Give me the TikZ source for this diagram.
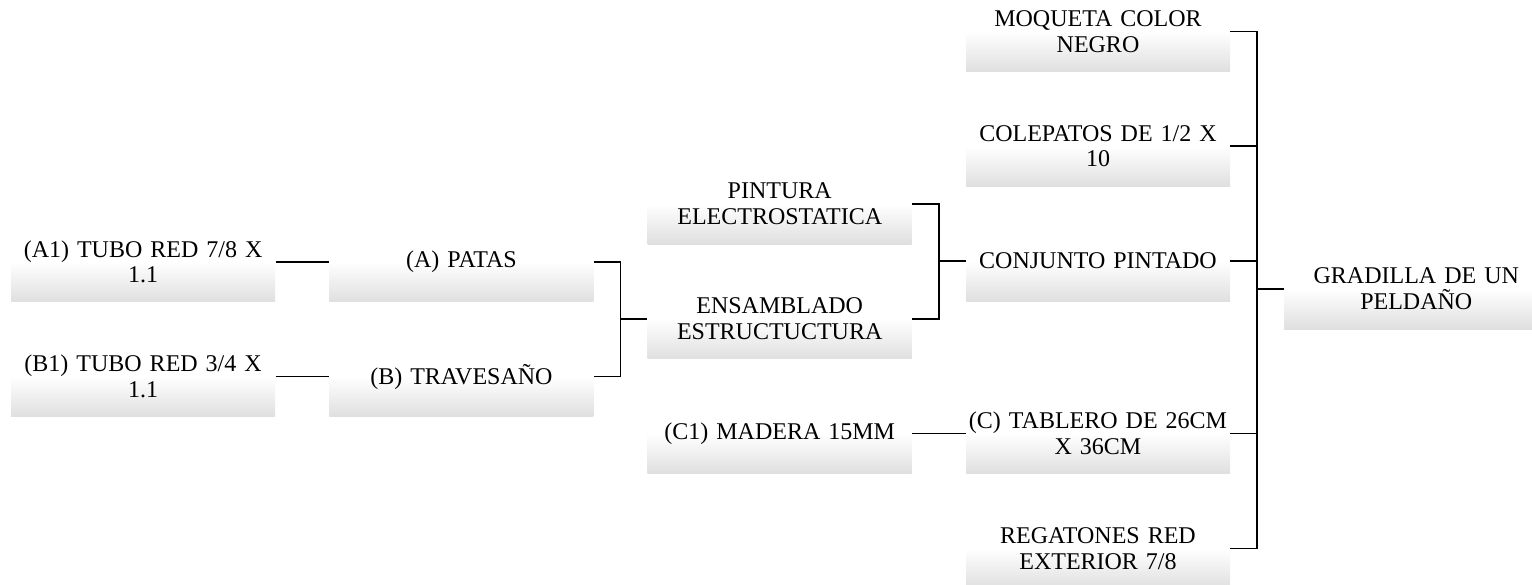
\documentclass[tikz,border=0pt]{standalone}
\usepackage{fontspec}
\setmainfont{Liberation Serif}
\usetikzlibrary{positioning, calc}
\tikzset{
    block/.style = {rectangle, minimum height=40pt, minimum width=132pt, text width=132pt,
        inner sep=0pt, align=center, font=\fontsize{12}{12.9}\selectfont,
        top color=white, bottom color=gray!25, middle color=white},
    link/.style = {draw=black, line width=0.75pt}
}

\begin{document}
\begin{tikzpicture}[x=0.5pt, y=-0.5pt, node distance=17pt and 26.75pt]
    \useasboundingbox (0,0) rectangle (1532,584);
    % Nodos
    \node [block] (conj) at (1098,261) {CONJUNTO PINTADO};
    \node [block, above=of conj] (colep) {COLEPATOS DE 1/2 X\\10};
    \node [block, above=of colep] (moq) {MOQUETA COLOR\\NEGRO};
    \node [block, left=of conj, yshift=28.5pt] (pint) {PINTURA\\ELECTROSTATICA};
    \node [block, below=of pint] (ens) {ENSAMBLADO\\ESTRUCTUCTURA};
    \node [block, below=of ens] (mad) {(C1) MADERA 15MM};
    \node [block, right=of mad] (tab) {(C) TABLERO DE 26CM\\X 36CM};
    \node [block, below=of tab] (reg) {REGATONES RED\\EXTERIOR 7/8};
    \node [block, left=of ens, yshift=28.5pt] (patas) {(A) PATAS};
    \node [block, below=of patas] (trav) {(B) TRAVESAÑO};
    \node [block, left=of patas] (tuboa) {(A1) TUBO RED 7/8 X\\1.1};
    \node [block, left=of trav] (tubob) {(B1) TUBO RED 3/4 X\\1.1};
    \node [block, right=of conj, yshift=-14pt] (grad) {GRADILLA DE UN\\PELDAÑO};
    % Uniones
    \coordinate [left=13.375pt of ens.west] (j1);
    \coordinate [left=13.375pt of conj.west] (j2);
    \coordinate [left=13.375pt of grad.west] (j3);
    % Lineas
    \draw [link] (tuboa) -- (patas);
    \draw [link] (tubob) -- (trav);
    \draw [link] (patas.east) -| (j1) |- (trav.east);
    \draw [link] (j1) -- (ens.west);
    \draw [link] (pint.east) -| (j2) |- (ens.east);
    \draw [link] (j2) -- (conj.west);
    \draw [link] (mad) -- (tab);
    \draw [link] (moq.east) -| (j3) |- (reg.east);
    \draw [link] (colep.east) -- (colep.east -| j3);
    \draw [link] (conj.east) -- (conj.east -| j3);
    \draw [link] (tab.east) -- (tab.east -| j3);
    \draw [link] (j3) -- (grad.west);
\end{tikzpicture}
\end{document}
